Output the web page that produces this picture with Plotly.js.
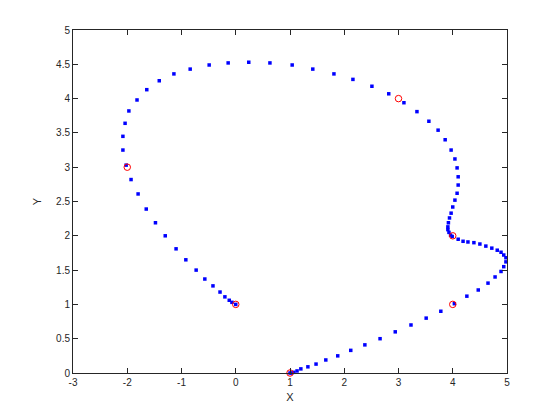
<!DOCTYPE html>
<html>
<head>
<meta charset="utf-8">
<script src="https://cdn.plot.ly/plotly-3.0.1.min.js"></script>
<style>html,body{margin:0;padding:0;background:#fff;}#chart{width:560px;height:420px;}</style>
</head>
<body>
<div id="chart"></div>
<script>
// Interpolated curve points (blue squares)
const curveX = [0.00,-0.07,-0.12,-0.20,-0.29,-0.42,-0.57,-0.73,-0.92,-1.10,-1.30,-1.48,-1.65,-1.80,-1.93,-2.02,-2.08,-2.08,-2.04,-1.97,-1.82,-1.64,-1.41,-1.14,-0.84,-0.49,-0.14,0.24,0.63,1.04,1.42,1.81,2.16,2.51,2.82,3.10,3.34,3.56,3.73,3.86,3.97,4.04,4.08,4.10,4.10,4.08,4.04,4.00,3.97,3.94,3.92,3.91,3.91,3.93,3.96,3.99,4.10,4.19,4.28,4.39,4.50,4.61,4.72,4.82,4.89,4.94,4.98,4.98,4.94,4.89,4.78,4.65,4.47,4.26,4.03,3.78,3.51,3.23,2.94,2.66,2.38,2.12,1.88,1.66,1.48,1.33,1.20,1.13,1.07,1.03,1.00];
const curveY = [1.00,1.03,1.06,1.11,1.18,1.27,1.37,1.50,1.65,1.81,2.00,2.19,2.39,2.61,2.82,3.03,3.25,3.45,3.64,3.82,3.98,4.13,4.26,4.36,4.43,4.49,4.52,4.53,4.52,4.49,4.43,4.36,4.28,4.18,4.07,3.94,3.81,3.67,3.54,3.40,3.25,3.12,2.99,2.86,2.74,2.62,2.52,2.42,2.33,2.26,2.19,2.13,2.09,2.05,2.01,1.99,1.95,1.92,1.91,1.90,1.88,1.85,1.82,1.79,1.76,1.72,1.68,1.62,1.55,1.48,1.40,1.31,1.21,1.12,1.01,0.90,0.80,0.70,0.60,0.50,0.41,0.33,0.25,0.19,0.13,0.09,0.06,0.03,0.01,0.00,0.00];
// Control points (red circles)
const ctrlX = [0, -2, 3, 4, 4, 1];
const ctrlY = [1, 3, 4, 2, 1, 0];
// Tick labels
const xTicks = [-3,-2,-1,0,1,2,3,4,5];
const yTicks = [0,0.5,1,1.5,2,2.5,3,3.5,4,4.5,5];

const axisColor = '#262626';
const fontFam = 'Liberation Sans, DejaVu Sans, sans-serif';

const traces = [
  {x: curveX, y: curveY, mode: 'markers', type: 'scatter', cliponaxis: false,
   marker: {symbol: 'square', size: 3.5, color: '#0000ff'}},
  {x: ctrlX, y: ctrlY, mode: 'markers', type: 'scatter', cliponaxis: false,
   marker: {symbol: 'circle-open', size: 6.5, color: '#ff0000', line: {width: 1, color: '#ff0000'}}}
];

const axisCommon = {
  showgrid: false, zeroline: false, showline: true, linecolor: axisColor, linewidth: 1,
  mirror: 'allticks', ticks: 'inside', ticklen: 5, tickcolor: axisColor, tickwidth: 1,
  tickfont: {family: fontFam, size: 10, color: axisColor}
};

const layout = {
  width: 560, height: 420,
  margin: {l: 73, r: 53, t: 30, b: 47},
  paper_bgcolor: '#ffffff', plot_bgcolor: '#ffffff',
  showlegend: false,
  xaxis: Object.assign({}, axisCommon, {
    range: [-3, 5], tickvals: xTicks, ticktext: xTicks.map(String),
    title: {text: 'X', font: {family: fontFam, size: 11, color: axisColor}, standoff: 6}
  }),
  yaxis: Object.assign({}, axisCommon, {
    range: [0, 5], tickvals: yTicks, ticktext: yTicks.map(String),
    title: {text: 'Y', font: {family: fontFam, size: 11, color: axisColor}, standoff: 12}
  })
};

Plotly.newPlot('chart', traces, layout, {staticPlot: true, displayModeBar: false});
</script>
</body>
</html>
